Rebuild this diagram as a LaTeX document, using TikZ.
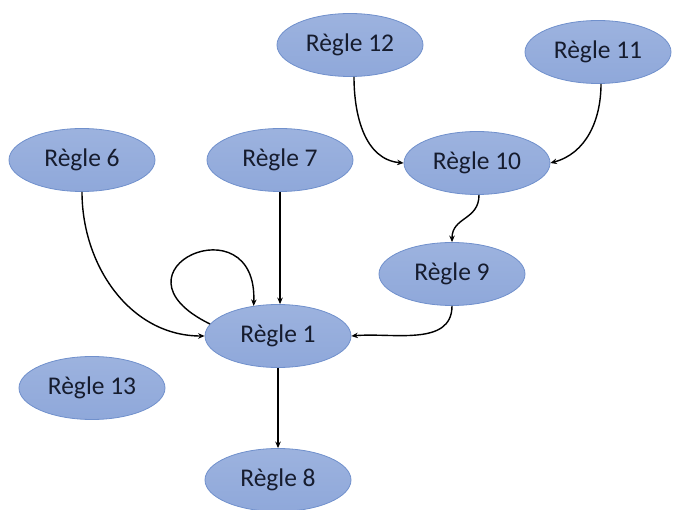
\documentclass[tikz,border=0pt]{standalone}
\usepackage{fontspec}
\setmainfont{Carlito}
\usetikzlibrary{arrows.meta,shapes.geometric}
\definecolor{nodefill}{HTML}{8FA8DA}
\definecolor{nodeline}{HTML}{7090CC}
\definecolor{nodetext}{HTML}{161C2E}
\begin{document}
\begin{tikzpicture}[x=1pt,y=-1pt,
  regle/.style={ellipse,draw=nodeline,line width=0.8pt,top color=nodefill!88!white,bottom color=nodefill,
    minimum width=146pt,minimum height=63pt,inner sep=0pt,text=nodetext,font=\fontsize{25.5}{30}\selectfont},
  link/.style={line width=1.4pt,draw=black,-{Stealth[length=6.5pt,width=5.5pt]}}]
\useasboundingbox (0,0) rectangle (673,510);
\node[regle] (r12) at (350,45) {Règle 12};
\node[regle] (r11) at (598,52) {Règle 11};
\node[regle] (r6) at (82,160) {Règle 6};
\node[regle] (r7) at (280,160) {Règle 7};
\node[regle] (r10) at (477,163) {Règle 10};
\node[regle] (r9) at (452,274) {Règle 9};
\node[regle] (r1) at (278,336) {Règle 1};
\node[regle] (r13) at (92,388) {Règle 13};
\node[regle] (r8) at (278,480) {Règle 8};
\draw[link] (r12.south) ++(4,0) to[out=-90,in=175] (r10.west);
\draw[link] (r11.south) ++(3,0) to[out=-90,in=15] (r10.east);
\draw[link] (r10.south) ++(2,0) to[out=-90,in=90,looseness=1.2] (r9.north);
\draw[link] (r9.south) to[out=-90,in=5] (r1.east);
\draw[link] (r6.south) to[out=-90,in=180] (r1.west);
\draw[link] (r7.south) -- (r1.north -| r7.south);
\draw[link] (r1.170) .. controls (100,270) and (258,200) .. (r1.129);
\draw[link] (r1.south) -- (r8.north);
\end{tikzpicture}
\end{document}
